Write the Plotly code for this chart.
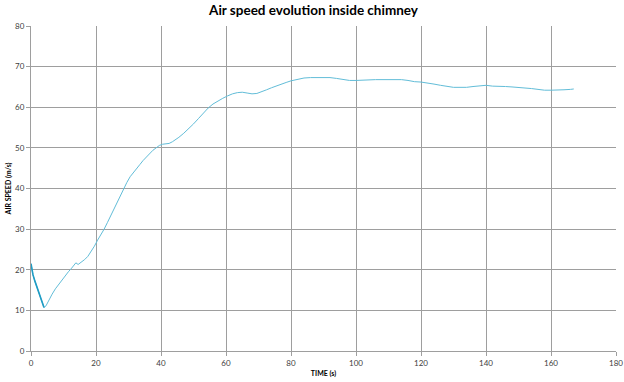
import plotly.graph_objects as go

time_s = [0, 0.2, 0.6, 1.2, 2.0, 2.8, 3.5, 4.0, 4.6, 5.5, 6.5, 7.5, 8.5, 9.5, 10.5, 11.5, 12.5, 13.2, 13.8, 14.5,
          15.5, 16.5, 17.5, 18.5, 19.5, 20.5, 21.5, 22.5, 23.5, 24.5, 25.5, 26.5, 27.5, 28.5, 29.5, 30.5, 31.5,
          32.5, 33.5, 34.5, 35.5, 36.5, 37.5, 38.5, 39.5, 40.5, 41.5, 42.5, 43.5, 44.5, 45.5, 47, 48.5, 50, 51.5,
          53, 54.5, 56, 57.5, 59, 60.5, 62, 63.5, 65, 66.5, 68, 69.5, 71, 72.5, 74, 75.5, 77, 78.5, 80, 82, 84,
          86, 88, 90, 92, 94, 96, 98, 100, 102, 104, 106, 108, 110, 112, 114, 116, 118, 120, 122, 124, 126, 128,
          130, 132, 134, 136, 138, 140, 142, 144, 146, 148, 150, 152, 154, 156, 158, 160, 162, 164, 166, 167]
speed = [21.5, 20.5, 18.8, 17.2, 15.2, 13.2, 11.4, 10.7, 11.1, 12.6, 14.0, 15.3, 16.4, 17.5, 18.5, 19.5, 20.4,
         21.1, 21.7, 21.3, 21.8, 22.5, 23.3, 24.4, 25.8, 27.3, 28.6, 30.0, 31.6, 33.3, 35.0, 36.6, 38.2, 39.9,
         41.5, 42.9, 44.0, 45.0, 45.9, 46.9, 47.8, 48.6, 49.4, 50.0, 50.6, 50.9, 51.0, 51.1, 51.5, 52.0, 52.6,
         53.6, 54.7, 55.9, 57.2, 58.5, 59.8, 60.8, 61.6, 62.2, 62.8, 63.3, 63.6, 63.7, 63.5, 63.3, 63.4, 63.8,
         64.3, 64.8, 65.3, 65.7, 66.1, 66.5, 66.9, 67.2, 67.3, 67.3, 67.3, 67.3, 67.1, 66.8, 66.6, 66.6, 66.7,
         66.7, 66.8, 66.8, 66.8, 66.9, 66.8, 66.6, 66.3, 66.2, 66.0, 65.7, 65.4, 65.1, 64.9, 64.9, 64.9, 65.1,
         65.2, 65.4, 65.2, 65.2, 65.1, 65.0, 64.9, 64.8, 64.6, 64.4, 64.2, 64.2, 64.2, 64.3, 64.4, 64.5]

x_ticks = list(range(0, 181, 20))
y_ticks = list(range(0, 81, 10))

n_dark = 8  # initial noisy segment appears darker

fig = go.Figure()
fig.add_trace(go.Scatter(x=time_s, y=speed, mode="lines",
                         line=dict(color="#62bdd8", width=1.0), hoverinfo="skip", showlegend=False))
fig.add_trace(go.Scatter(x=time_s[:n_dark], y=speed[:n_dark], mode="lines",
                         line=dict(color="#1f9cc4", width=1.6), hoverinfo="skip", showlegend=False))

FONT = "Lato, Open Sans, sans-serif"
axis_common = dict(showgrid=True, gridcolor="#9e9e9e", gridwidth=1, showline=True, linecolor="#9e9e9e",
                   linewidth=1, ticks="outside", ticklen=4, tickcolor="#9e9e9e", zeroline=False,
                   automargin=False,
                   tickfont=dict(family=FONT, size=8, color="#404040"))

fig.update_layout(
    width=624, height=382, autosize=False,
    margin=dict(l=31, r=8, t=26, b=31),
    paper_bgcolor="white", plot_bgcolor="white",
    title=dict(text="<b>Air speed evolution inside chimney</b>", x=313.5 / 624, xanchor="center",
               y=1 - 10.5 / 382, yanchor="middle", automargin=False,
               font=dict(family=FONT, size=13.5, color="#000000")),
    xaxis=dict(range=[0, 180], tickvals=x_ticks,
               title=dict(text="<b>TIME (s)</b>", standoff=4,
                          font=dict(family=FONT, size=7, color="#000000")),
               **axis_common),
    yaxis=dict(range=[0, 80], tickvals=y_ticks,
               title=dict(text="<b>AIR SPEED (m/s)</b>", standoff=2,
                          font=dict(family=FONT, size=7, color="#000000")),
               **axis_common),
)

fig.write_html("out.html", config={"displayModeBar": False},
               post_script="document.body.style.margin='0px';")
